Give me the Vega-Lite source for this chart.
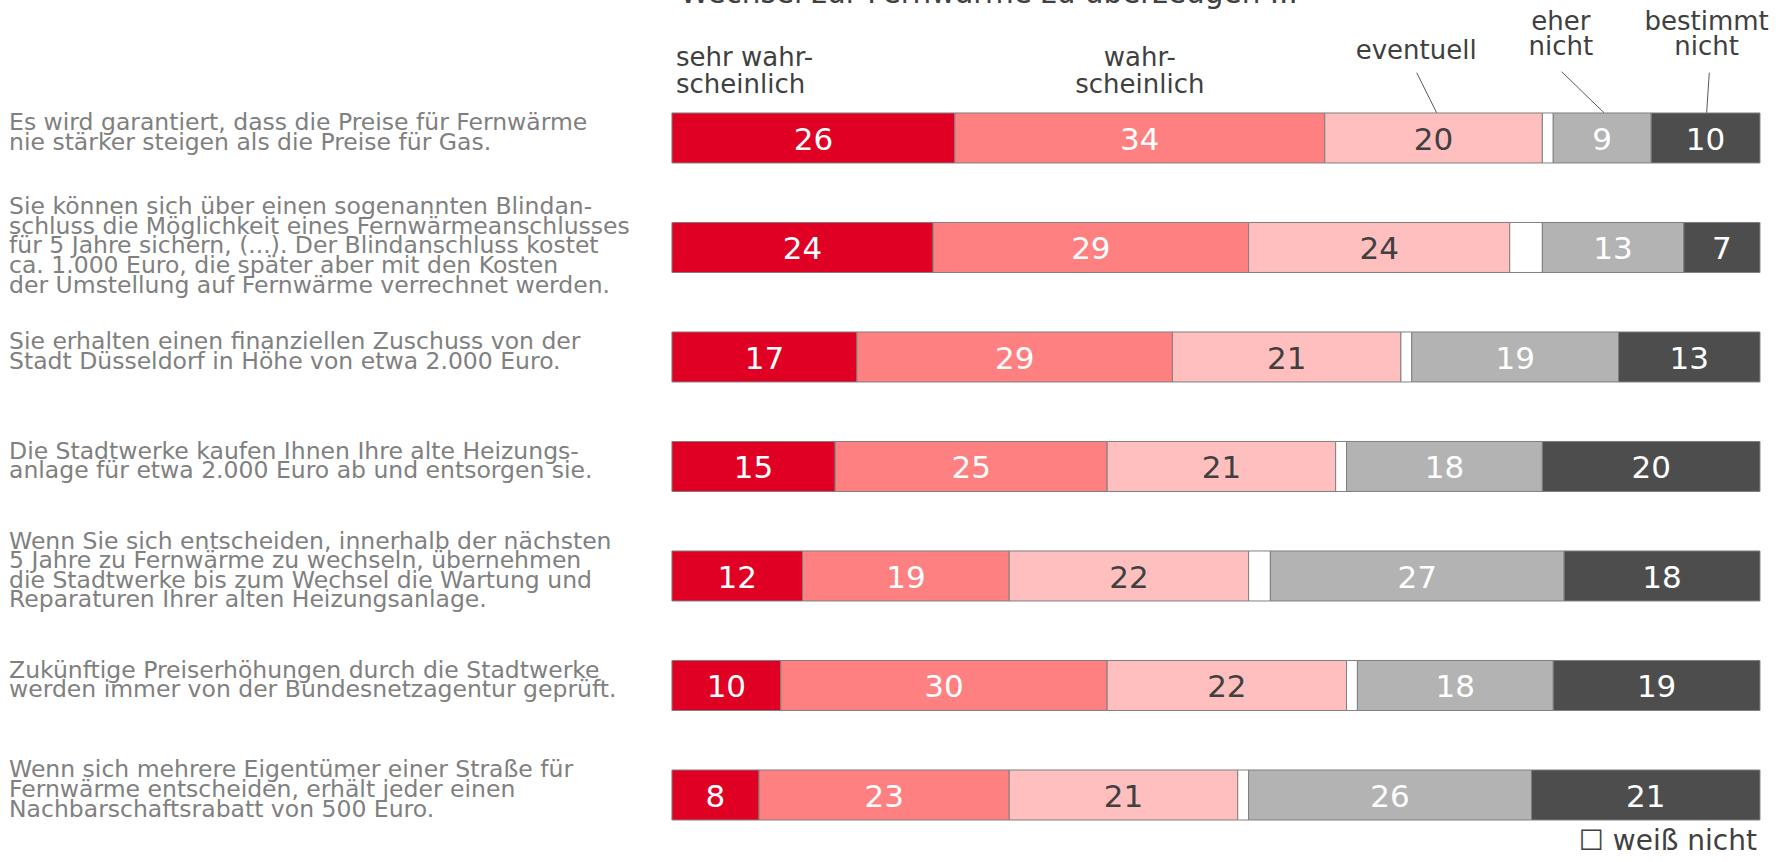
{
  "$schema": "https://vega.github.io/schema/vega-lite/v6.json",
  "width": 1785,
  "height": 862,
  "autosize": {"type": "none"},
  "padding": 0,
  "background": "white",
  "config": {"view": {"stroke": null}, "font": "DejaVu Sans"},
  "datasets": {
    "segments": [
      {"q": 1, "cat": "sehr wahrscheinlich", "order": 1, "value": 26},
      {"q": 1, "cat": "wahrscheinlich", "order": 2, "value": 34},
      {"q": 1, "cat": "eventuell", "order": 3, "value": 20},
      {"q": 1, "cat": "weiß nicht", "order": 4, "value": 1},
      {"q": 1, "cat": "eher nicht", "order": 5, "value": 9},
      {"q": 1, "cat": "bestimmt nicht", "order": 6, "value": 10},
      {"q": 2, "cat": "sehr wahrscheinlich", "order": 1, "value": 24},
      {"q": 2, "cat": "wahrscheinlich", "order": 2, "value": 29},
      {"q": 2, "cat": "eventuell", "order": 3, "value": 24},
      {"q": 2, "cat": "weiß nicht", "order": 4, "value": 3},
      {"q": 2, "cat": "eher nicht", "order": 5, "value": 13},
      {"q": 2, "cat": "bestimmt nicht", "order": 6, "value": 7},
      {"q": 3, "cat": "sehr wahrscheinlich", "order": 1, "value": 17},
      {"q": 3, "cat": "wahrscheinlich", "order": 2, "value": 29},
      {"q": 3, "cat": "eventuell", "order": 3, "value": 21},
      {"q": 3, "cat": "weiß nicht", "order": 4, "value": 1},
      {"q": 3, "cat": "eher nicht", "order": 5, "value": 19},
      {"q": 3, "cat": "bestimmt nicht", "order": 6, "value": 13},
      {"q": 4, "cat": "sehr wahrscheinlich", "order": 1, "value": 15},
      {"q": 4, "cat": "wahrscheinlich", "order": 2, "value": 25},
      {"q": 4, "cat": "eventuell", "order": 3, "value": 21},
      {"q": 4, "cat": "weiß nicht", "order": 4, "value": 1},
      {"q": 4, "cat": "eher nicht", "order": 5, "value": 18},
      {"q": 4, "cat": "bestimmt nicht", "order": 6, "value": 20},
      {"q": 5, "cat": "sehr wahrscheinlich", "order": 1, "value": 12},
      {"q": 5, "cat": "wahrscheinlich", "order": 2, "value": 19},
      {"q": 5, "cat": "eventuell", "order": 3, "value": 22},
      {"q": 5, "cat": "weiß nicht", "order": 4, "value": 2},
      {"q": 5, "cat": "eher nicht", "order": 5, "value": 27},
      {"q": 5, "cat": "bestimmt nicht", "order": 6, "value": 18},
      {"q": 6, "cat": "sehr wahrscheinlich", "order": 1, "value": 10},
      {"q": 6, "cat": "wahrscheinlich", "order": 2, "value": 30},
      {"q": 6, "cat": "eventuell", "order": 3, "value": 22},
      {"q": 6, "cat": "weiß nicht", "order": 4, "value": 1},
      {"q": 6, "cat": "eher nicht", "order": 5, "value": 18},
      {"q": 6, "cat": "bestimmt nicht", "order": 6, "value": 19},
      {"q": 7, "cat": "sehr wahrscheinlich", "order": 1, "value": 8},
      {"q": 7, "cat": "wahrscheinlich", "order": 2, "value": 23},
      {"q": 7, "cat": "eventuell", "order": 3, "value": 21},
      {"q": 7, "cat": "weiß nicht", "order": 4, "value": 1},
      {"q": 7, "cat": "eher nicht", "order": 5, "value": 26},
      {"q": 7, "cat": "bestimmt nicht", "order": 6, "value": 21}
    ],
    "questions": [
      {"q": 1, "lines": ["Es wird garantiert, dass die Preise für Fernwärme", "nie stärker steigen als die Preise für Gas."]},
      {"q": 2, "lines": ["Sie können sich über einen sogenannten Blindan-", "schluss die Möglichkeit eines Fernwärmeanschlusses", "für 5 Jahre sichern, (...). Der Blindanschluss kostet", "ca. 1.000 Euro, die später aber mit den Kosten", "der Umstellung auf Fernwärme verrechnet werden."]},
      {"q": 3, "lines": ["Sie erhalten einen finanziellen Zuschuss von der", "Stadt Düsseldorf in Höhe von etwa 2.000 Euro."]},
      {"q": 4, "lines": ["Die Stadtwerke kaufen Ihnen Ihre alte Heizungs-", "anlage für etwa 2.000 Euro ab und entsorgen sie."]},
      {"q": 5, "lines": ["Wenn Sie sich entscheiden, innerhalb der nächsten", "5 Jahre zu Fernwärme zu wechseln, übernehmen", "die Stadtwerke bis zum Wechsel die Wartung und", "Reparaturen Ihrer alten Heizungsanlage."]},
      {"q": 6, "lines": ["Zukünftige Preiserhöhungen durch die Stadtwerke", "werden immer von der Bundesnetzagentur geprüft."]},
      {"q": 7, "lines": ["Wenn sich mehrere Eigentümer einer Straße für", "Fernwärme entscheiden, erhält jeder einen", "Nachbarschaftsrabatt von 500 Euro."]}
    ]
  },
  "layer": [
    {
      "data": {"name": "segments"},
      "transform": [
        {"stack": "value", "groupby": ["q"], "sort": [{"field": "order"}], "as": ["x0", "x1"]}
      ],
      "mark": {"type": "bar", "orient": "horizontal", "height": 50, "stroke": "#7f7f7f", "strokeWidth": 1},
      "encoding": {
        "x": {"field": "x0", "type": "quantitative", "axis": null, "scale": {"domain": [-61.76, 102.3], "nice": false, "zero": false, "padding": 0}},
        "x2": {"field": "x1"},
        "y": {"field": "q", "type": "quantitative", "axis": null, "scale": {"domain": [-0.26, 7.612], "reverse": true, "nice": false, "zero": false, "padding": 0}},
        "color": {
          "field": "cat", "type": "nominal", "legend": null,
          "scale": {
            "domain": ["sehr wahrscheinlich", "wahrscheinlich", "eventuell", "weiß nicht", "eher nicht", "bestimmt nicht"],
            "range": ["#E00024", "#FF8080", "#FFBFBF", "#FFFFFF", "#B3B3B3", "#4D4D4D"]
          }
        }
      }
    },
    {
      "data": {"name": "segments"},
      "transform": [
        {"stack": "value", "groupby": ["q"], "sort": [{"field": "order"}], "as": ["x0", "x1"]},
        {"filter": "datum.cat !== 'weiß nicht'"},
        {"fold": ["x0", "x1"], "as": ["edge", "xv"]},
        {"aggregate": [{"op": "mean", "field": "xv", "as": "mid"}], "groupby": ["q", "cat", "value"]}
      ],
      "mark": {"type": "text", "fontSize": 31, "align": "center", "baseline": "alphabetic", "dy": 12},
      "encoding": {
        "x": {"field": "mid", "type": "quantitative", "axis": null, "scale": {"domain": [-61.76, 102.3], "nice": false, "zero": false, "padding": 0}},
        "y": {"field": "q", "type": "quantitative", "axis": null, "scale": {"domain": [-0.26, 7.612], "reverse": true, "nice": false, "zero": false, "padding": 0}},
        "text": {"field": "value", "type": "quantitative"},
        "color": {"condition": {"test": "datum.cat === 'eventuell'", "value": "#404040"}, "value": "#FFFFFF"}
      }
    },
    {
      "data": {"name": "questions"},
      "mark": {"type": "text", "fontSize": 23.5, "lineHeight": 19.6, "align": "left", "baseline": "middle", "color": "#808080", "dy": {"expr": "-5 - (length(datum.lines) - 1) * 9.8 + (length(datum.lines) > 4 ? 4 : 0)"}},
      "encoding": {
        "x": {"datum": -60.93, "type": "quantitative", "axis": null, "scale": {"domain": [-61.76, 102.3], "nice": false, "zero": false, "padding": 0}},
        "y": {"field": "q", "type": "quantitative", "axis": null, "scale": {"domain": [-0.26, 7.612], "reverse": true, "nice": false, "zero": false, "padding": 0}},
        "text": {"field": "lines"}
      }
    },
    {
      "data": {"values": [{}]},
      "mark": {"type": "rule", "color": "#595959", "strokeWidth": 1},
      "encoding": {
        "x": {"datum": 68.45, "type": "quantitative"},
        "x2": {"datum": 70.28},
        "y": {"datum": 0.404, "type": "quantitative"},
        "y2": {"datum": 0.769}
      }
    },
    {
      "data": {"values": [{}]},
      "mark": {"type": "rule", "color": "#595959", "strokeWidth": 1},
      "encoding": {
        "x": {"datum": 81.77, "type": "quantitative"},
        "x2": {"datum": 85.66},
        "y": {"datum": 0.395, "type": "quantitative"},
        "y2": {"datum": 0.769}
      }
    },
    {
      "data": {"values": [{}]},
      "mark": {"type": "rule", "color": "#595959", "strokeWidth": 1},
      "encoding": {
        "x": {"datum": 95.34, "type": "quantitative"},
        "x2": {"datum": 95.1},
        "y": {"datum": 0.404, "type": "quantitative"},
        "y2": {"datum": 0.769}
      }
    },
    {
      "data": {"values": [{}]},
      "mark": {"type": "text", "fontSize": 26, "lineHeight": 26.5, "align": "left", "baseline": "alphabetic", "color": "#404040", "text": ["sehr wahr-", "scheinlich"]},
      "encoding": {
        "x": {"datum": 0.37, "type": "quantitative"},
        "y": {"datum": 0.343, "type": "quantitative"}
      }
    },
    {
      "data": {"values": [{}]},
      "mark": {"type": "text", "fontSize": 26, "lineHeight": 26.5, "align": "center", "baseline": "alphabetic", "color": "#404040", "text": ["wahr-", "scheinlich"]},
      "encoding": {
        "x": {"datum": 43, "type": "quantitative"},
        "y": {"datum": 0.343, "type": "quantitative"}
      }
    },
    {
      "data": {"values": [{}]},
      "mark": {"type": "text", "fontSize": 26, "align": "center", "baseline": "alphabetic", "color": "#404040", "text": "eventuell"},
      "encoding": {
        "x": {"datum": 68.4, "type": "quantitative"},
        "y": {"datum": 0.2816, "type": "quantitative"}
      }
    },
    {
      "data": {"values": [{}]},
      "mark": {"type": "text", "fontSize": 26, "lineHeight": 25.6, "align": "center", "baseline": "alphabetic", "color": "#404040", "text": ["eher", "nicht"]},
      "encoding": {
        "x": {"datum": 81.7, "type": "quantitative"},
        "y": {"datum": 0.013, "type": "quantitative"}
      }
    },
    {
      "data": {"values": [{}]},
      "mark": {"type": "text", "fontSize": 26, "lineHeight": 25.6, "align": "center", "baseline": "alphabetic", "color": "#404040", "text": ["bestimmt", "nicht"]},
      "encoding": {
        "x": {"datum": 95.1, "type": "quantitative"},
        "y": {"datum": 0.013, "type": "quantitative"}
      }
    },
    {
      "data": {"values": [{}]},
      "mark": {"type": "text", "fontSize": 28, "align": "right", "baseline": "alphabetic", "color": "#404040", "text": "☐ weiß nicht"},
      "encoding": {
        "x": {"datum": 99.72, "type": "quantitative"},
        "y": {"datum": 7.5, "type": "quantitative"}
      }
    },
    {
      "data": {"values": [{}]},
      "mark": {"type": "text", "fontSize": 29.5, "align": "left", "baseline": "alphabetic", "color": "#404040", "clip": true, "text": "Wechsel zur Fernwärme zu überzeugen ..."},
      "encoding": {
        "x": {"datum": 0.74, "type": "quantitative"},
        "y": {"datum": -0.232, "type": "quantitative"}
      }
    }
  ]
}
